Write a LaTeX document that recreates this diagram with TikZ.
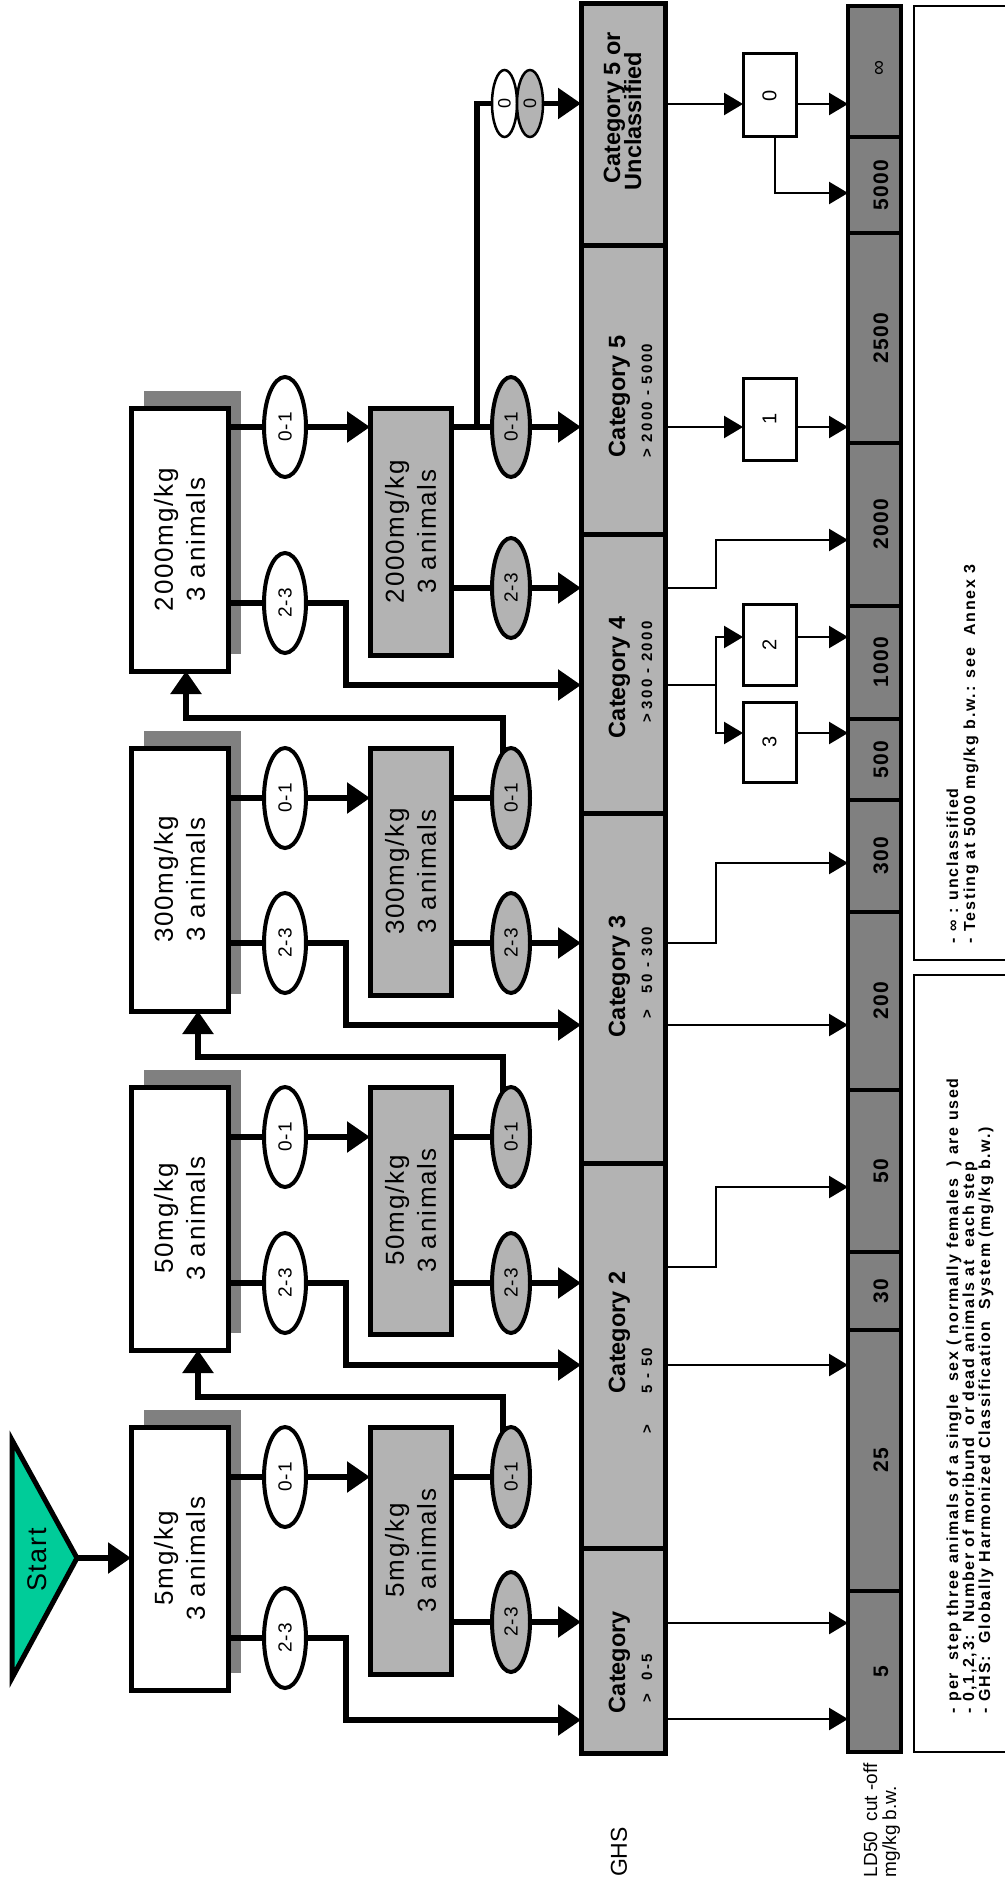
\documentclass[tikz,border=0pt]{standalone}
\usepackage{fontspec}
\setmainfont{Liberation Sans}
\newfontfamily\fA{Liberation Sans}[LetterSpace=7]
\newfontfamily\fB{Liberation Sans}[LetterSpace=11]
\newfontfamily\fC{Liberation Sans}[LetterSpace=15]
\newfontfamily\fD{Liberation Sans}[LetterSpace=6]
\usetikzlibrary{arrows.meta,shapes.geometric}
\definecolor{teal1}{RGB}{0,204,153}
\definecolor{boxgray}{RGB}{179,179,179}
\definecolor{dgray}{RGB}{128,128,128}
\pgfdeclarelayer{bg}\pgfdeclarelayer{lines}
\pgfsetlayers{bg,lines,main}
\tikzset{
  every node/.style={inner sep=0pt, outer sep=0pt},
  dosebox/.style={draw, line width=5pt, fill=white, minimum width=97pt, minimum height=263pt},
  shadowbox/.style={fill=dgray, minimum width=97pt, minimum height=263pt},
  graybox/.style={draw, line width=5pt, fill=boxgray, minimum width=81pt, minimum height=247pt},
  doset/.style={rotate=90, align=center, font=\fA\fontsize{26}{32}\selectfont},
  oval/.style={ellipse, draw, line width=4pt, fill=white, minimum width=42pt, minimum height=100pt},
  goval/.style={oval, fill=boxgray, minimum width=38pt},
  ovalt/.style={rotate=90, font=\fD\fontsize{19}{19}\selectfont},
  smoval/.style={ellipse, draw, line width=2.5pt, fill=white, minimum width=25pt, minimum height=67pt},
  catseg/.style={draw, line width=5pt, fill=boxgray, minimum width=84pt},
  catA/.style={rotate=90, anchor=base west, font=\bfseries\fontsize{23.5}{23.5}\selectfont},
  catB/.style={rotate=90, anchor=base west, font=\fC\bfseries\fontsize{15}{15}\selectfont},
  ldseg/.style={draw, line width=3.5pt, fill=dgray, minimum width=53pt},
  ldt/.style={rotate=90, anchor=base, font=\fD\bfseries\fontsize{21}{21}\selectfont},
  sbox/.style={draw, line width=3pt, fill=white, minimum width=53pt},
  sboxt/.style={rotate=90, font=\fontsize{20}{20}\selectfont},
  legbox/.style={draw, line width=2.5pt, minimum width=100pt},
  legt/.style={rotate=90, anchor=base west, font=\fB\bfseries\fontsize{16}{16}\selectfont},
  thk/.style={line width=5.5pt},
  thkarr/.style={thk, -{Triangle[length=23pt,width=30pt]}},
  thn/.style={line width=2.5pt},
  thnarr/.style={thn, -{Triangle[length=19pt,width=22pt]}},
}
\begin{document}
\begin{tikzpicture}[x=1pt,y=-1pt]
\useasboundingbox (0,0) rectangle (1004,1886);

% ---------- Start
\draw[line width=5pt, fill=teal1] (12,1440) -- (77,1558) -- (12,1678) -- cycle;
\coordinate (sa) at (77,1558);
\node[rotate=90, font=\fD\fontsize{27}{27}\selectfont] (startlbl) at (37,1560) {Start};

% ---------- shadows
\begin{pgfonlayer}{bg}
\node[shadowbox] (s5) at (192.5,1541.5) {};
\node[shadowbox] (s50) at (192.5,1201.5) {};
\node[shadowbox] (s300) at (192.5,862.5) {};
\node[shadowbox] (s2000) at (192.5,522.5) {};
\end{pgfonlayer}

% ---------- dose boxes
\node[dosebox] (d5) at (179.5,1558.5) {};
\node[doset] (d5t) at (d5) {5mg/kg\\3 animals};
\node[dosebox] (d50) at (179.5,1218.5) {};
\node[doset] (d50t) at (d50) {50mg/kg\\3 animals};
\node[dosebox] (d300) at (179.5,879.5) {};
\node[doset] (d300t) at (d300) {300mg/kg\\3 animals};
\node[dosebox] (d2000) at (179.5,539.5) {};
\node[doset] (d2000t) at (d2000) {2000mg/kg\\3 animals};

% ---------- second (gray) boxes
\node[graybox] (g5) at (410.5,1550.5) {};
\node[doset] (g5t) at (g5) {5mg/kg\\3 animals};
\node[graybox] (g50) at (410.5,1210.5) {};
\node[doset] (g50t) at (g50) {50mg/kg\\3 animals};
\node[graybox] (g300) at (410.5,871.5) {};
\node[doset] (g300t) at (g300) {300mg/kg\\3 animals};
\node[graybox] (g2000) at (410.5,531.5) {};
\node[doset] (g2000t) at (g2000) {2000mg/kg\\3 animals};

% ---------- white ellipses
\node[oval] (wa5) at (285,1477) {};   \node[ovalt] (wa5t) at (wa5) {0-1};
\node[oval] (wb5) at (285,1638) {};   \node[ovalt] (wb5t) at (wb5) {2-3};
\node[oval] (wa50) at (285,1137) {};  \node[ovalt] (wa50t) at (wa50) {0-1};
\node[oval] (wb50) at (285,1283) {};  \node[ovalt] (wb50t) at (wb50) {2-3};
\node[oval] (wa300) at (285,798) {};  \node[ovalt] (wa300t) at (wa300) {0-1};
\node[oval] (wb300) at (285,943) {};  \node[ovalt] (wb300t) at (wb300) {2-3};
\node[oval] (wa2000) at (285,427) {}; \node[ovalt] (wa2000t) at (wa2000) {0-1};
\node[oval] (wb2000) at (285,603) {}; \node[ovalt] (wb2000t) at (wb2000) {2-3};

% ---------- gray ellipses
\node[goval] (ga5) at (511,1477) {};   \node[ovalt] (ga5t) at (ga5) {0-1};
\node[goval] (gb5) at (511,1622) {};   \node[ovalt] (gb5t) at (gb5) {2-3};
\node[goval] (ga50) at (511,1137) {};  \node[ovalt] (ga50t) at (ga50) {0-1};
\node[goval] (gb50) at (511,1283) {};  \node[ovalt] (gb50t) at (gb50) {2-3};
\node[goval] (ga300) at (511,798) {};  \node[ovalt] (ga300t) at (ga300) {0-1};
\node[goval] (gb300) at (511,943) {};  \node[ovalt] (gb300t) at (gb300) {2-3};
\node[goval] (ga2000) at (511,427) {}; \node[ovalt] (ga2000t) at (ga2000) {0-1};
\node[goval] (gb2000) at (511,588) {}; \node[ovalt] (gb2000t) at (gb2000) {2-3};

% small ellipses
\node[smoval] (sw) at (504.5,103.5) {};
\node[ovalt, font=\fontsize{18}{18}\selectfont] (swt) at (sw) {0};
\node[smoval, fill=boxgray, minimum width=26pt] (sg) at (530,103.5) {};
\node[ovalt, font=\fontsize{18}{18}\selectfont] (sgt) at (sg) {0};

% ---------- GHS category bar
\node[catseg, minimum height=242pt] (c5u) at (623,125) {};
\node[catseg, minimum height=288pt] (c5) at (623,390) {};
\node[catseg, minimum height=279pt] (c4) at (623,673.5) {};
\node[catseg, minimum height=350pt] (c3) at (623,988) {};
\node[catseg, minimum height=385pt] (c2) at (623,1355.5) {};
\node[catseg, minimum height=205pt] (c0) at (623,1650.5) {};

\node[rotate=90, anchor=base, font=\bfseries\fontsize{23.5}{23.5}\selectfont] (c5ut1) at (620,108) {Category 5 or};
\node[rotate=90, anchor=base, font=\bfseries\fontsize{23.5}{23.5}\selectfont] (c5ut2) at (641,121) {Unclassified};
\node[catA] (c5t1) at (625,457) {Category 5};
\node[catB] (c5t2) at (652,457) {>};
\node[catB] (c5t3) at (652,442) {2000 - 5000};
\node[catA] (c4t1) at (625,738) {Category 4};
\node[catB] (c4t2) at (652,722) {>};
\node[catB] (c4t3) at (652,709) {300 - 2000};
\node[catA] (c3t1) at (625,1037) {Category 3};
\node[catB] (c3t2) at (652,1018) {>};
\node[catB] (c3t3) at (652,993) {50 - 300};
\node[catA] (c2t1) at (625,1393) {Category 2};
\node[catB] (c2t2) at (652,1433) {>};
\node[catB] (c2t3) at (652,1393) {5 - 50};
\node[catA] (c0t1) at (625,1713) {Category};
\node[catB] (c0t2) at (652,1702) {>};
\node[catB] (c0t3) at (652,1680) {0-5};

% ---------- LD50 bar
\node[ldseg, minimum height=131pt] (linf) at (874.5,71.5) {};
\node[ldseg, minimum height=96pt] (l5000) at (874.5,185) {};
\node[ldseg, minimum height=210pt] (l2500) at (874.5,338) {};
\node[ldseg, minimum height=163pt] (l2000) at (874.5,524.5) {};
\node[ldseg, minimum height=113pt] (l1000) at (874.5,662.5) {};
\node[ldseg, minimum height=81pt] (l500) at (874.5,759.5) {};
\node[ldseg, minimum height=112pt] (l300) at (874.5,856) {};
\node[ldseg, minimum height=178pt] (l200) at (874.5,1001) {};
\node[ldseg, minimum height=162pt] (l50) at (874.5,1171) {};
\node[ldseg, minimum height=78pt] (l30) at (874.5,1291) {};
\node[ldseg, minimum height=261pt] (l25) at (874.5,1460.5) {};
\node[ldseg, minimum height=161pt] (l5) at (874.5,1671.5) {};

\node[rotate=90, font=\fontsize{21}{21}\selectfont] (linft) at (880,68) {∞};
\node[ldt] (l5000t) at (888,185) {5000};
\node[ldt] (l2500t) at (888,338) {2500};
\node[ldt] (l2000t) at (888,524.5) {2000};
\node[ldt] (l1000t) at (888,662.5) {1000};
\node[ldt] (l500t) at (888,759.5) {500};
\node[ldt] (l300t) at (888,856) {300};
\node[ldt] (l200t) at (888,1001) {200};
\node[ldt] (l50t) at (888,1171) {50};
\node[ldt] (l30t) at (888,1291) {30};
\node[ldt] (l25t) at (888,1460.5) {25};
\node[ldt] (l5t) at (888,1671.5) {5};

% ---------- small result boxes
\node[sbox, minimum height=83pt] (b0) at (769.5,95.5) {};  \node[sboxt] (b0t) at (b0) {0};
\node[sbox, minimum height=82pt] (b1) at (769.5,419) {};   \node[sboxt] (b1t) at (b1) {1};
\node[sbox, minimum height=81pt] (b2) at (769.5,644.5) {}; \node[sboxt] (b2t) at (b2) {2};
\node[sbox, minimum height=80pt] (b3) at (769.5,742) {};   \node[sboxt] (b3t) at (b3) {3};

% ---------- legend
\node[legbox, minimum height=954pt] (leg1) at (964,483) {};
\node[legbox, minimum height=777pt] (leg2) at (964,1363.5) {};
\node[legt] (leg1a) at (958,943) {- ∞ : unclassified};
\node[legt] (leg1b) at (975,943) {- Testing at 5000 mg/kg b.w.: see\ \ Annex 3};
\node[legt] (leg2a) at (958,1713) {- per\ \ step three animals of a single\ \ sex ( normally females\ \ ) are used};
\node[legt] (leg2b) at (974,1713) {- 0,1,2,3:\ \ Number of moribund\ \ or dead animals at\ \ each step};
\node[legt] (leg2c) at (990,1713) {- GHS:\ \ Globally Harmonized Classification\ \ System (mg/kg b.w.)};

% ---------- side labels
\node[rotate=90, font=\fontsize{23}{23}\selectfont] (ghs) at (619,1852) {GHS};
\node[rotate=90, anchor=base west, font=\fontsize{19}{19}\selectfont] (ldl1) at (877,1877) {LD50\ \ cut -off};
\node[rotate=90, anchor=base west, font=\fontsize{19}{19}\selectfont] (ldl2) at (896,1877) {mg/kg b.w.};

% ---------- coordinates
\coordinate (k5) at (346,1720);
\coordinate (k50) at (346,1365);
\coordinate (k300) at (346,1025);
\coordinate (k2000) at (346,685);
\coordinate (u5) at (198,1397);
\coordinate (u50) at (198,1057);
\coordinate (u300) at (186,718);
\coordinate (br) at (477,103.5);
\coordinate (t0) at (0,104);
\coordinate (t0b) at (775,193);
\coordinate (t1) at (0,427);
\coordinate (q4) at (716,588);
\coordinate (q4b) at (716,540);
\coordinate (p4) at (716,685);
\coordinate (p4a) at (716,637);
\coordinate (p4b) at (716,733);
\coordinate (q3) at (716,943);
\coordinate (q3b) at (716,863);
\coordinate (s3) at (0,1025);
\coordinate (q2) at (716,1267);
\coordinate (q2b) at (716,1187);
\coordinate (s2) at (0,1365);
\coordinate (s0a) at (0,1623);
\coordinate (s0b) at (0,1719);

% ---------- connectors
\begin{pgfonlayer}{lines}
\draw[thkarr] (sa) -- (d5.west |- sa);
% 5 mg
\draw[thkarr] (d5.east |- wa5) -- (g5.west |- wa5);
\draw[thkarr] (d5.east |- wb5) -- (k5 |- wb5) -- (k5) -- (c0.west |- k5);
\draw[thkarr] (g5.east |- gb5) -- (c0.west |- gb5);
\draw[thk] (g5.east |- ga5) -- (ga5.center);
\draw[thkarr] ([xshift=-8pt]ga5.center) |- (u5) -- (d50.south -| u5);
% 50 mg
\draw[thkarr] (d50.east |- wa50) -- (g50.west |- wa50);
\draw[thkarr] (d50.east |- wb50) -- (k50 |- wb50) -- (k50) -- (c2.west |- k50);
\draw[thkarr] (g50.east |- gb50) -- (c2.west |- gb50);
\draw[thk] (g50.east |- ga50) -- (ga50.center);
\draw[thkarr] ([xshift=-8pt]ga50.center) |- (u50) -- (d300.south -| u50);
% 300 mg
\draw[thkarr] (d300.east |- wa300) -- (g300.west |- wa300);
\draw[thkarr] (d300.east |- wb300) -- (k300 |- wb300) -- (k300) -- (c3.west |- k300);
\draw[thkarr] (g300.east |- gb300) -- (c3.west |- gb300);
\draw[thk] (g300.east |- ga300) -- (ga300.center);
\draw[thkarr] ([xshift=-8pt]ga300.center) |- (u300) -- (d2000.south -| u300);
% 2000 mg
\draw[thkarr] (d2000.east |- wa2000) -- (g2000.west |- wa2000);
\draw[thkarr] (d2000.east |- wb2000) -- (k2000 |- wb2000) -- (k2000) -- (c4.west |- k2000);
\draw[thkarr] (g2000.east |- gb2000) -- (c4.west |- gb2000);
\draw[thkarr] (g2000.east |- ga2000) -- (c5.west |- ga2000);
\draw[thk] (br |- ga2000) -- (br) -- (sw.center);
\draw[thkarr] (sg.east) -- (c5u.west |- sg);
% categories to LD50
\draw[thnarr] (c5u.east |- t0) -- (b0.west |- t0);
\draw[thnarr] (b0.east |- t0) -- (linf.west |- t0);
\draw[thnarr] (b0.south -| t0b) -- (t0b) -- (l5000.west |- t0b);
\draw[thnarr] (c5.east |- t1) -- (b1.west |- t1);
\draw[thnarr] (b1.east |- t1) -- (l2500.west |- t1);
\draw[thnarr] (c4.east |- q4) -- (q4) -- (q4b) -- (l2000.west |- q4b);
\draw[thn] (c4.east |- p4) -- (p4);
\draw[thnarr] (p4) -- (p4a) -- (b2.west |- p4a);
\draw[thnarr] (p4) -- (p4b) -- (b3.west |- p4b);
\draw[thnarr] (b2.east |- p4a) -- (l1000.west |- p4a);
\draw[thnarr] (b3.east |- p4b) -- (l500.west |- p4b);
\draw[thnarr] (c3.east |- q3) -- (q3) -- (q3b) -- (l300.west |- q3b);
\draw[thnarr] (c3.east |- s3) -- (l200.west |- s3);
\draw[thnarr] (c2.east |- q2) -- (q2) -- (q2b) -- (l50.west |- q2b);
\draw[thnarr] (c2.east |- s2) -- (l25.west |- s2);
\draw[thnarr] (c0.east |- s0a) -- (l5.west |- s0a);
\draw[thnarr] (c0.east |- s0b) -- (l5.west |- s0b);
\end{pgfonlayer}
\end{tikzpicture}
\end{document}
